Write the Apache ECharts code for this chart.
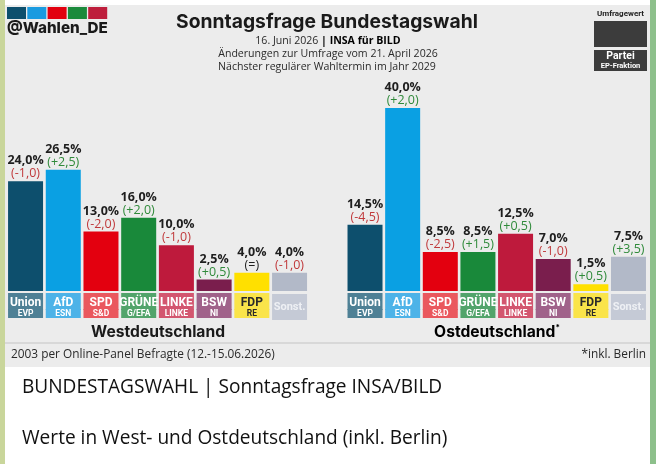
<!DOCTYPE html>
<html><head><meta charset="utf-8">
<script src="https://cdn.jsdelivr.net/npm/echarts@6/dist/echarts.min.js"></script>
<style>
html,body{margin:0;padding:0;width:656px;height:464px;overflow:hidden;
background:linear-gradient(to right,#c9d69b 0,#c9d69b 5px,#ffffff 5px,#ffffff 650px,#8dc08b 650px);}
#c{width:656px;height:464px;}
</style></head><body><div id="c"></div>
<script>
const parties = ['Union','AfD','SPD','GRÜNE','LINKE','BSW','FDP','Sonst.'];
const fractions = ['EVP','ESN','S&D','G/EFA','LINKE','NI','RE',''];
const westValues = [24.0,26.5,13.0,16.0,10.0,2.5,4.0,4.0];
const westChanges = [-1.0,2.5,-2.0,2.0,-1.0,0.5,0,-1.0];
const eastValues = [14.5,40.0,8.5,8.5,12.5,7.0,1.5,7.5];
const eastChanges = [-4.5,2.0,-2.5,1.5,0.5,-1.0,0.5,3.5];
const barColors = ['#0d4f6d','#0aa0e3','#e3000f','#19893a','#be1a3c','#7a1e4d','#ffe000','#b2b9c8'];
const boxColors = ['#4e8095','#4db3e8','#ea585e','#52a46b','#d3566f','#a0628a','#fae44a','#c5cad6'];
const boxTextColors = ['#ffffff','#ffffff','#ffffff','#ffffff','#ffffff','#ffffff','#2a2a2a','#eef0f4'];
const logoColors = ['#0d4f6d','#1a9be0','#e2000f','#1b8a3c','#be1e3c'];

const mctx = document.createElement('canvas').getContext('2d');
function fit(text, weight, family, target){
  mctx.font = weight + ' 100px ' + family;
  return 100 * target / mctx.measureText(text).width;
}
function fmt(v){ return v.toFixed(1).replace('.', ','); }
function chg(v){
  if (v === 0) return '{z|(=)}';
  return v > 0 ? '{p|(+' + fmt(v) + ')}' : '{n|(-' + fmt(-v) + ')}';
}

const labelRich = {
  v:{fontFamily:'Open Sans',fontWeight:700,fontSize:12.5,color:'#1e1e1e',lineHeight:13},
  n:{fontFamily:'Open Sans',fontSize:12.5,color:'#c0393b',lineHeight:13},
  p:{fontFamily:'Open Sans',fontSize:12.5,color:'#2f8a3a',lineHeight:13},
  z:{fontFamily:'Open Sans',fontSize:12.5,color:'#1e1e1e',lineHeight:13}
};

const axisRich = {};
parties.forEach((p,i)=>{
  const base = {width:35,align:'center',backgroundColor:boxColors[i],color:boxTextColors[i],fontFamily:'Roboto',fontWeight:700};
  if (fractions[i]) {
    axisRich['n'+i] = Object.assign({}, base, {fontSize:12,height:15,lineHeight:15,padding:[2,0,0,0]});
    axisRich['f'+i] = Object.assign({}, base, {fontSize:8.5,height:9,lineHeight:9,padding:[0,0,0,0]});
  } else {
    axisRich['n'+i] = Object.assign({}, base, {fontSize:11,height:26,lineHeight:26,color:boxTextColors[i]});
  }
});
function axisFmt(v, i){
  if (fractions[i]) return '{n'+i+'|'+parties[i]+'}\n{f'+i+'|'+fractions[i]+'}';
  return '{n'+i+'|'+parties[i]+'}';
}

function xAxisFor(g){
  return {type:'category',gridIndex:g,data:parties,axisLine:{show:false},axisTick:{show:false},
    axisLabel:{interval:0,margin:3,formatter:axisFmt,rich:axisRich}};
}
function yAxisFor(g){
  return {type:'value',gridIndex:g,min:0,max:40,show:false,splitLine:{show:false}};
}
function seriesFor(g, values, changes){
  return {type:'bar',xAxisIndex:g,yAxisIndex:g,barWidth:35,
    data:values.map((v,i)=>({value:v,itemStyle:{color:barColors[i]}})),
    label:{show:true,position:'top',distance:1,
      formatter:p=>'{v|'+fmt(values[p.dataIndex])+'%}\n'+chg(changes[p.dataIndex]),rich:labelRich},
    emphasis:{disabled:true},animation:false};
}

const titleSize = fit('Sonntagsfrage Bundestagswahl','700','Inter',302);
const logoSize = fit('@Wahlen_DE','800','Inter',101);
const regionSize = fit('Westdeutschland','700','Inter',134);
const footSize = fit('2003 per Online-Panel Befragte (12.-15.06.2026)','400','Open Sans',264);
const msg1 = 'BUNDESTAGSWAHL | Sonntagsfrage INSA/BILD';
const msg2 = 'Werte in West- und Ostdeutschland (inkl. Berlin)';
const msgSize = (fit(msg1,'400','Open Sans',415)+fit(msg2,'400','Open Sans',431))/2;
const sub2Size = fit('Änderungen zur Umfrage vom 21. April 2026','400','Open Sans',220);

const graphics = [
  {type:'rect',shape:{x:5,y:0,width:645,height:464},style:{fill:'#ffffff'},z:-10,silent:true},
  {type:'rect',shape:{x:5,y:5,width:645,height:362},style:{fill:'#ececec'},z:-9,silent:true},
  {type:'rect',shape:{x:5,y:342.5,width:645,height:1},style:{fill:'#c4c4c4'},z:-8,silent:true},
  {type:'rect',shape:{x:594,y:21,width:53,height:26},style:{fill:'#3c3c3c'},silent:true},
  {type:'rect',shape:{x:594,y:50,width:53,height:21},style:{fill:'#3c3c3c'},silent:true},
  {type:'text',style:{x:620.5,y:14,text:'Umfragewert',fontFamily:'Roboto',fontWeight:700,fontSize:8,fill:'#222',align:'center',verticalAlign:'middle'},silent:true},
  {type:'text',style:{x:620.5,y:56.5,text:'Partei',fontFamily:'Roboto',fontWeight:700,fontSize:10.5,fill:'#fff',align:'center',verticalAlign:'middle'},silent:true},
  {type:'text',style:{x:620.5,y:66,text:'EP-Fraktion',fontFamily:'Roboto',fontWeight:700,fontSize:7.5,fill:'#fff',align:'center',verticalAlign:'middle'},silent:true},
  {type:'text',style:{x:7,y:28,text:'@Wahlen_DE',fontFamily:'Inter',fontWeight:800,fontSize:logoSize,fill:'#1a1a1a',align:'left',verticalAlign:'middle'},silent:true},
  {type:'text',style:{x:327,y:22,text:'Sonntagsfrage Bundestagswahl',fontFamily:'Inter',fontWeight:700,fontSize:titleSize,fill:'#1a1a1a',align:'center',verticalAlign:'middle'},silent:true},
  {type:'text',style:{x:328,y:41,text:'{a|16. Juni 2026 }{b|| INSA für BILD}',align:'center',verticalAlign:'middle',
    rich:{a:{fontFamily:'Open Sans',fontSize:sub2Size,fill:'#2a2a2a',color:'#2a2a2a'},b:{fontFamily:'Open Sans',fontWeight:700,fontSize:sub2Size,color:'#1a1a1a'}}},silent:true},
  {type:'text',style:{x:328,y:54,text:'Änderungen zur Umfrage vom 21. April 2026',fontFamily:'Open Sans',fontSize:sub2Size,fill:'#2a2a2a',align:'center',verticalAlign:'middle'},silent:true},
  {type:'text',style:{x:327,y:67,text:'Nächster regulärer Wahltermin im Jahr 2029',fontFamily:'Open Sans',fontSize:sub2Size,fill:'#2a2a2a',align:'center',verticalAlign:'middle'},silent:true},
  {type:'text',style:{x:158,y:332,text:'Westdeutschland',fontFamily:'Inter',fontWeight:700,fontSize:regionSize,fill:'#1a1a1a',align:'center',verticalAlign:'middle'},silent:true},
  {type:'text',style:{x:497,y:332,text:'{a|Ostdeutschland}{b|*}',align:'center',verticalAlign:'middle',
    rich:{a:{fontFamily:'Inter',fontWeight:700,fontSize:regionSize,color:'#1a1a1a'},b:{fontFamily:'Inter',fontWeight:700,fontSize:8,color:'#1a1a1a',padding:[0,0,9,0]}}},silent:true},
  {type:'text',style:{x:11,y:355,text:'2003 per Online-Panel Befragte (12.-15.06.2026)',fontFamily:'Open Sans',fontSize:footSize,fill:'#2a2a2a',align:'left',verticalAlign:'middle'},silent:true},
  {type:'text',style:{x:646,y:355,text:'*inkl. Berlin',fontFamily:'Open Sans',fontSize:footSize,fill:'#2a2a2a',align:'right',verticalAlign:'middle'},silent:true},
  {type:'text',style:{x:22,y:388,text:msg1,fontFamily:'Open Sans',fontSize:msgSize,fill:'#111',align:'left',verticalAlign:'middle'},silent:true},
  {type:'text',style:{x:22,y:439,text:msg2,fontFamily:'Open Sans',fontSize:msgSize,fill:'#111',align:'left',verticalAlign:'middle'},silent:true}
];
logoColors.forEach((c,i)=>graphics.push({type:'rect',shape:{x:7+i*20.3,y:7,width:19,height:12},style:{fill:c},silent:true}));

const chart = echarts.init(document.getElementById('c'), null, {renderer:'canvas'});
chart.setOption({
  animation:false,
  backgroundColor:'transparent',
  grid:[
    {left:6.7,width:301.7,top:108,height:183,containLabel:false},
    {left:346.2,width:301.1,top:108,height:183,containLabel:false}
  ],
  xAxis:[xAxisFor(0),xAxisFor(1)],
  yAxis:[yAxisFor(0),yAxisFor(1)],
  series:[seriesFor(0,westValues,westChanges),seriesFor(1,eastValues,eastChanges)],
  graphic:graphics
});
</script></body></html>
